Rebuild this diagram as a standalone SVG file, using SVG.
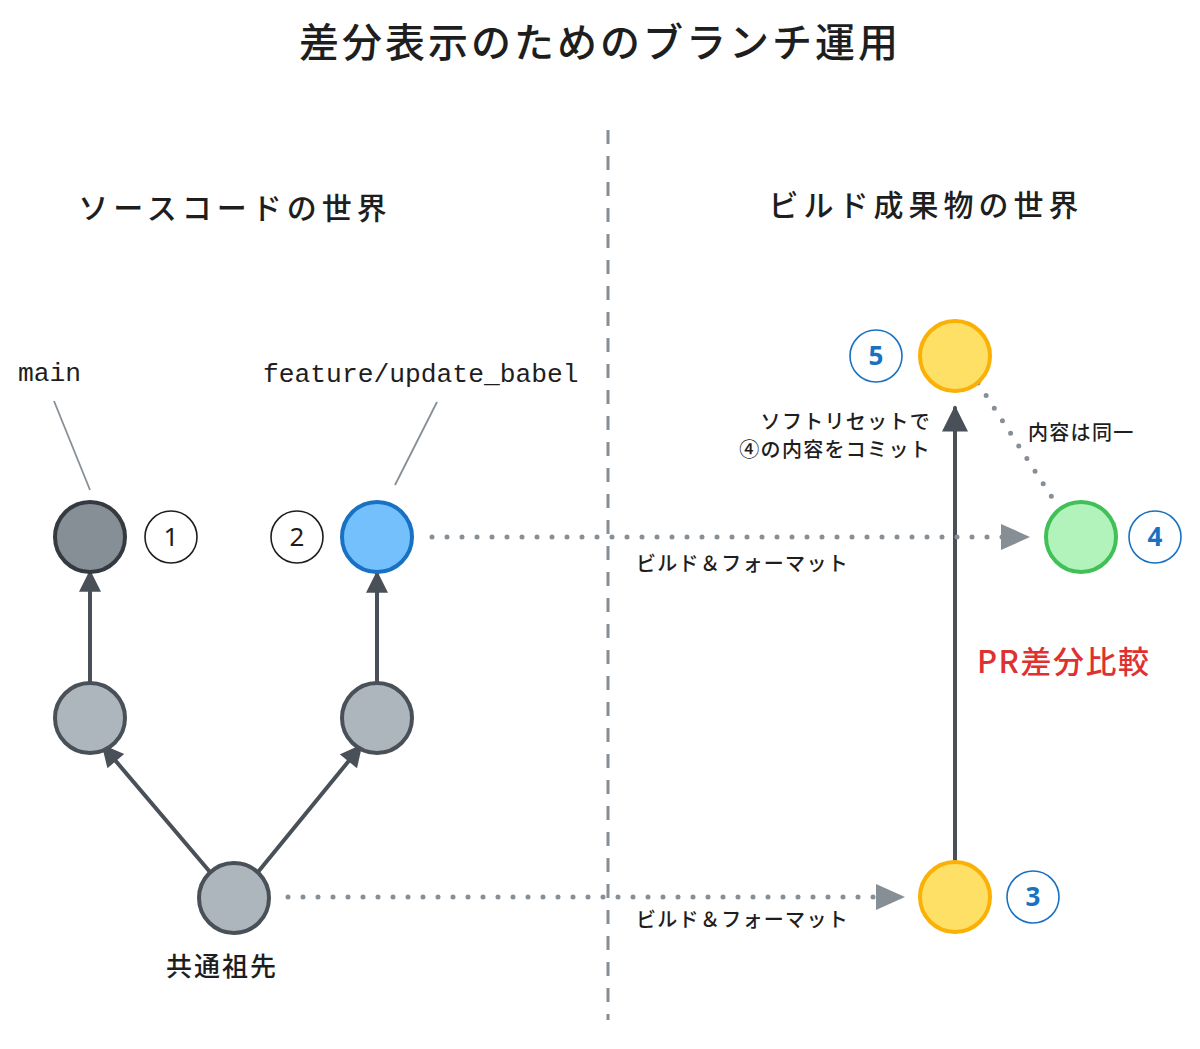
<svg xmlns="http://www.w3.org/2000/svg" width="1200" height="1049" viewBox="0 0 1200 1049">
<defs>
<style>
text{font-family:"Noto Sans CJK JP","Noto Sans",sans-serif;fill:#1e1e1e;font-weight:500}
.mono{font-family:"Liberation Mono","DejaVu Sans Mono",monospace;font-weight:normal}
.node{stroke-width:4}
.gray{fill:#adb5bd;stroke:#495057}
.dark{fill:#868e96;stroke:#343a40}
.blue{fill:#74c0fc;stroke:#1971c2}
.yellow{fill:#ffe066;stroke:#fab005}
.green{fill:#b2f2bb;stroke:#40c057}
.badge{fill:#fff;stroke:#1e1e1e;stroke-width:1.6}
.badgeb{fill:#fff;stroke:#1971c2;stroke-width:1.6}
.num{font-family:"Noto Sans",sans-serif;font-size:26px;text-anchor:middle;font-weight:normal}
.numb{font-family:"Noto Sans",sans-serif;font-size:26px;text-anchor:middle;fill:#1971c2;font-weight:bold}
.solid{stroke:#495057;stroke-width:4;fill:none;stroke-linecap:round}
.dot{stroke:#868e96;stroke-width:5;fill:none;stroke-linecap:round;stroke-dasharray:0 15}
.ptr{stroke:#868e96;stroke-width:1.8;fill:none}
.lbl{font-size:20px;letter-spacing:1.3px}
</style>
<marker id="ah" viewBox="0 0 10 10" refX="9" refY="5" markerWidth="6" markerHeight="5.5" orient="auto" markerUnits="strokeWidth"><path d="M0,0 L10,5 L0,10 z" fill="#495057"/></marker>
<marker id="ahb" viewBox="0 0 10 10" refX="9" refY="5" markerWidth="7.5" markerHeight="6.5" orient="auto" markerUnits="strokeWidth"><path d="M0,0 L10,5 L0,10 z" fill="#495057"/></marker>
</defs>
<rect width="1200" height="1049" fill="#fff"/>
<text x="600" y="57" font-size="40" letter-spacing="3" text-anchor="middle">差分表示のためのブランチ運用</text>
<text x="235" y="219" font-size="30" letter-spacing="5" text-anchor="middle">ソースコードの世界</text>
<text x="926" y="216" font-size="30" letter-spacing="5" text-anchor="middle">ビルド成果物の世界</text>
<line x1="608" y1="130" x2="608" y2="1020" stroke="#868e96" stroke-width="3" stroke-dasharray="14 12"/>
<g id="connectors">
<line class="ptr" x1="54" y1="401" x2="90" y2="490"/>
<line class="ptr" x1="437" y1="402" x2="395" y2="485"/>
<line class="solid" x1="90" y1="682" x2="90" y2="572" marker-end="url(#ah)"/>
<line class="solid" x1="377" y1="682" x2="377" y2="573" marker-end="url(#ah)"/>
<line class="solid" x1="210" y1="872" x2="103" y2="746" marker-end="url(#ah)"/>
<line class="solid" x1="258" y1="872" x2="361" y2="746" marker-end="url(#ah)"/>
<line class="solid" x1="955" y1="860" x2="955" y2="408" marker-end="url(#ahb)"/>
<line class="dot" x1="288" y1="897" x2="880" y2="897"/>
<path d="M876,884 L905,897 L876,910 z" fill="#868e96"/>
<line class="dot" x1="432" y1="537" x2="1003" y2="537"/>
<path d="M1001,524 L1030,537 L1001,550 z" fill="#868e96"/>
<line class="dot" x1="978" y1="383" x2="1055" y2="502"/>
<text class="lbl" x="636" y="571">ビルド＆フォーマット</text>
<text class="lbl" x="636" y="927">ビルド＆フォーマット</text>
<text class="lbl" x="931" y="429" text-anchor="end">ソフトリセットで</text>
<text class="lbl" x="931" y="457" text-anchor="end">④の内容をコミット</text>
<text class="lbl" x="1028" y="440" font-size="19">内容は同一</text>
<text x="977" y="673" font-size="31" letter-spacing="1.5" style="fill:#e03131">PR差分比較</text>
</g>
<g id="main-top"><circle class="node dark" cx="90" cy="537" r="35"/><text class="mono" x="18" y="381" font-size="26.3">main</text></g>
<g id="badge1"><circle class="badge" cx="171" cy="537" r="26"/><text class="num" x="171" y="546">1</text></g>
<g id="main-mid"><circle class="node gray" cx="90" cy="718" r="35"/></g>
<g id="ancestor"><circle class="node gray" cx="234" cy="898" r="35"/><text x="222" y="976" font-size="26" letter-spacing="2" text-anchor="middle">共通祖先</text></g>
<g id="feature-mid"><circle class="node gray" cx="377" cy="718" r="35"/></g>
<g id="feature-top"><circle class="node blue" cx="377" cy="537" r="35"/><text class="mono" x="263" y="382" font-size="26.3">feature/update_babel</text></g>
<g id="badge2"><circle class="badge" cx="297" cy="537" r="26"/><text class="num" x="297" y="546">2</text></g>
<g id="build3"><circle class="node yellow" cx="955" cy="897" r="35"/></g>
<g id="badge3"><circle class="badgeb" cx="1033" cy="897" r="26"/><text class="numb" x="1033" y="906">3</text></g>
<g id="build4"><circle class="node green" cx="1081" cy="537" r="35"/></g>
<g id="badge4"><circle class="badgeb" cx="1155" cy="537" r="26"/><text class="numb" x="1155" y="546">4</text></g>
<g id="build5"><circle class="node yellow" cx="955" cy="356" r="35"/></g>
<g id="badge5"><circle class="badgeb" cx="876" cy="356" r="26"/><text class="numb" x="876" y="365">5</text></g>
</svg>
